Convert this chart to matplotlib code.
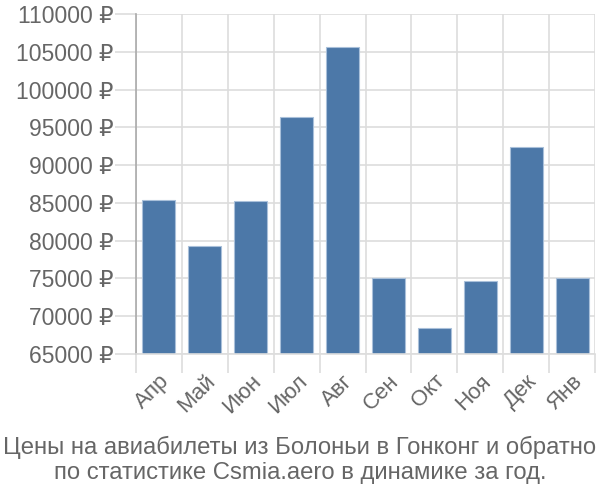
import matplotlib
matplotlib.use('Agg')
import matplotlib.pyplot as plt
from matplotlib.ticker import FuncFormatter

plt.rcParams['font.family'] = ['Liberation Sans', 'DejaVu Sans']

months = ['Апр', 'Май', 'Июн', 'Июл', 'Авг', 'Сен', 'Окт', 'Ноя', 'Дек', 'Янв']
prices = [85400, 79300, 85200, 96400, 105600, 75100, 68400, 74650, 92450, 75100]
y_ticks = [65000, 70000, 75000, 80000, 85000, 90000, 95000, 100000, 105000, 110000]
title = ('Цены на авиабилеты из Болоньи в Гонконг и обратно\n'
         'по статистике Csmia.aero в динамике за год.')

fig = plt.figure(figsize=(6, 5), dpi=100)
ax = fig.add_axes([136 / 600, 1 - 354 / 500, 459 / 600, 340 / 500])

x = list(range(len(months)))
ax.bar(x, prices, width=0.72, color='#4c78a8', edgecolor='#a9c0da', linewidth=0.8, zorder=2)

ax.set_xlim(-0.5, len(months) - 0.5)
ax.set_ylim(65000, 110000)
ax.set_yticks(y_ticks)
ax.yaxis.set_major_formatter(FuncFormatter(lambda v, p: f'{int(v)} ₽'))

ax.set_xticks([i - 0.5 for i in x] + [len(months) - 0.5])
ax.set_xticks(x, minor=True)
ax.set_xticklabels([])
ax.set_xticklabels(months, minor=True, rotation=45, ha='right', va='top',
                   rotation_mode='anchor')

ax.grid(True, axis='both', which='major', color='#dddddd', linewidth=1.2, zorder=0)
ax.tick_params(axis='y', length=15, width=1.2, color='#dddddd', labelsize=16.5,
               labelcolor='#666666', pad=1)
ax.tick_params(axis='x', which='major', length=14, width=1.2, color='#dddddd')
ax.tick_params(axis='x', which='minor', length=0, labelsize=16, labelcolor='#666666', pad=12)

for side in ['top', 'right']:
    ax.spines[side].set_visible(False)
ax.spines['left'].set_color('#aaaaaa')
ax.spines['left'].set_linewidth(1.2)
ax.spines['bottom'].set_color('#dddddd')
ax.spines['bottom'].set_linewidth(1.2)

fig.text(0.5, 1 - 460 / 500, title, ha='center', va='center', fontsize=17.2,
         color='#666666', linespacing=1.18)

fig.savefig('out.png', dpi=100)
